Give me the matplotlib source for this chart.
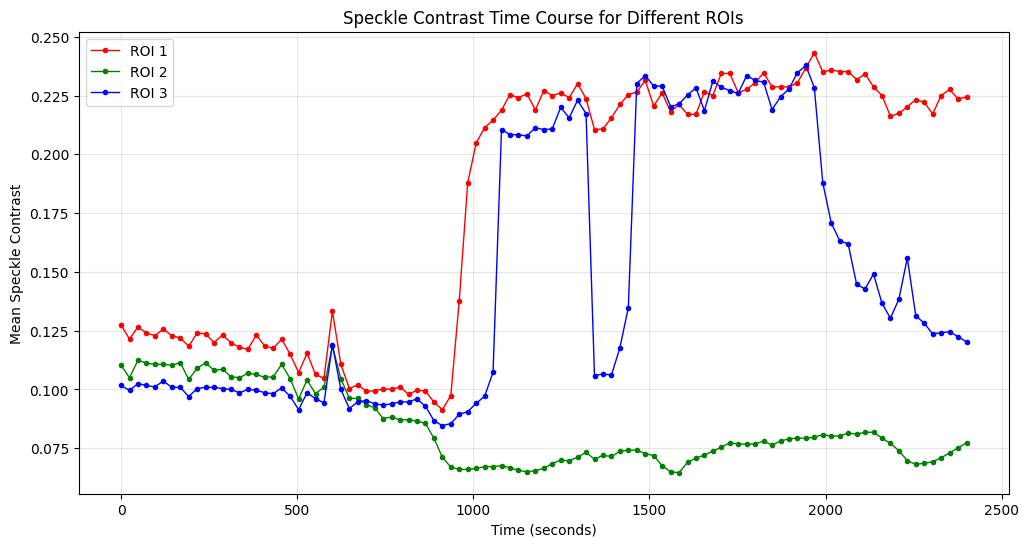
import numpy as np
import matplotlib
matplotlib.use('Agg')
import matplotlib.pyplot as plt

# frame times (s), one sample every 24 s
time_s = np.arange(101) * 24

roi1 = [0.1274, 0.1214, 0.1266, 0.1240, 0.1229, 0.1257, 0.1229, 0.1219, 0.1184, 0.1240,
        0.1237, 0.1199, 0.1232, 0.1199, 0.1179, 0.1171, 0.1232, 0.1184, 0.1176, 0.1214,
        0.1150, 0.1072, 0.1154, 0.1064, 0.1047, 0.1333, 0.1107, 0.1004, 0.1020, 0.0993,
        0.0994, 0.1003, 0.1000, 0.1011, 0.0979, 0.0997, 0.0993, 0.0947, 0.0914, 0.0974,
        0.1376, 0.1878, 0.2048, 0.2113, 0.2145, 0.2188, 0.2254, 0.2240, 0.2258, 0.2188,
        0.2271, 0.2250, 0.2261, 0.2241, 0.2300, 0.2237, 0.2105, 0.2108, 0.2155, 0.2212,
        0.2254, 0.2265, 0.2314, 0.2206, 0.2261, 0.2181, 0.2212, 0.2170, 0.2170, 0.2266,
        0.2250, 0.2344, 0.2344, 0.2262, 0.2276, 0.2304, 0.2347, 0.2287, 0.2287, 0.2287,
        0.2304, 0.2368, 0.2432, 0.2350, 0.2359, 0.2352, 0.2352, 0.2318, 0.2342, 0.2287,
        0.2250, 0.2162, 0.2174, 0.2202, 0.2233, 0.2221, 0.2172, 0.2250, 0.2276, 0.2236,
        0.2244]

roi2 = [0.1103, 0.1050, 0.1124, 0.1112, 0.1107, 0.1107, 0.1103, 0.1114, 0.1043, 0.1090,
        0.1114, 0.1081, 0.1086, 0.1054, 0.1050, 0.1069, 0.1064, 0.1051, 0.1054, 0.1107,
        0.1046, 0.0960, 0.1040, 0.0982, 0.1010, 0.1185, 0.1046, 0.0962, 0.0962, 0.0936,
        0.0922, 0.0876, 0.0883, 0.0870, 0.0872, 0.0865, 0.0856, 0.0793, 0.0712, 0.0670,
        0.0660, 0.0660, 0.0664, 0.0672, 0.0672, 0.0676, 0.0667, 0.0656, 0.0650, 0.0655,
        0.0664, 0.0685, 0.0699, 0.0697, 0.0712, 0.0733, 0.0703, 0.0720, 0.0715, 0.0737,
        0.0742, 0.0742, 0.0727, 0.0719, 0.0676, 0.0650, 0.0646, 0.0690, 0.0708, 0.0721,
        0.0738, 0.0754, 0.0774, 0.0768, 0.0768, 0.0768, 0.0781, 0.0763, 0.0781, 0.0790,
        0.0793, 0.0793, 0.0797, 0.0808, 0.0802, 0.0802, 0.0815, 0.0810, 0.0818, 0.0818,
        0.0793, 0.0771, 0.0740, 0.0697, 0.0682, 0.0686, 0.0693, 0.0709, 0.0731, 0.0751,
        0.0774]

roi3 = [0.1017, 0.0996, 0.1025, 0.1017, 0.1011, 0.1036, 0.1009, 0.1009, 0.0970, 0.1004,
        0.1009, 0.1009, 0.1004, 0.1000, 0.0986, 0.1000, 0.0997, 0.0986, 0.0982, 0.1007,
        0.0971, 0.0914, 0.0986, 0.0961, 0.0943, 0.1190, 0.1000, 0.0919, 0.0947, 0.0953,
        0.0939, 0.0934, 0.0939, 0.0947, 0.0947, 0.0960, 0.0929, 0.0868, 0.0846, 0.0855,
        0.0894, 0.0906, 0.0941, 0.0971, 0.1073, 0.2105, 0.2084, 0.2083, 0.2078, 0.2113,
        0.2105, 0.2108, 0.2200, 0.2155, 0.2230, 0.2173, 0.1059, 0.1066, 0.1061, 0.1177,
        0.1348, 0.2301, 0.2335, 0.2290, 0.2290, 0.2203, 0.2214, 0.2252, 0.2283, 0.2186,
        0.2311, 0.2285, 0.2271, 0.2259, 0.2335, 0.2314, 0.2307, 0.2190, 0.2244, 0.2278,
        0.2347, 0.2378, 0.2283, 0.1879, 0.1708, 0.1633, 0.1619, 0.1448, 0.1427, 0.1491,
        0.1367, 0.1303, 0.1384, 0.1559, 0.1313, 0.1282, 0.1236, 0.1242, 0.1245, 0.1225,
        0.1202]

roi_labels = ['ROI 1', 'ROI 2', 'ROI 3']
roi_colors = ['red', 'green', 'blue']

plt.figure(figsize=(12, 6), dpi=100)
for vals, lab, col in zip([roi1, roi2, roi3], roi_labels, roi_colors):
    plt.plot(time_s, vals, marker='o', markersize=3, linewidth=1, color=col, label=lab)

plt.title('Speckle Contrast Time Course for Different ROIs')
plt.xlabel('Time (seconds)')
plt.ylabel('Mean Speckle Contrast')
plt.legend(loc='upper left')
plt.grid(True, alpha=0.3)
plt.savefig('out.png', dpi=100, bbox_inches='tight')
